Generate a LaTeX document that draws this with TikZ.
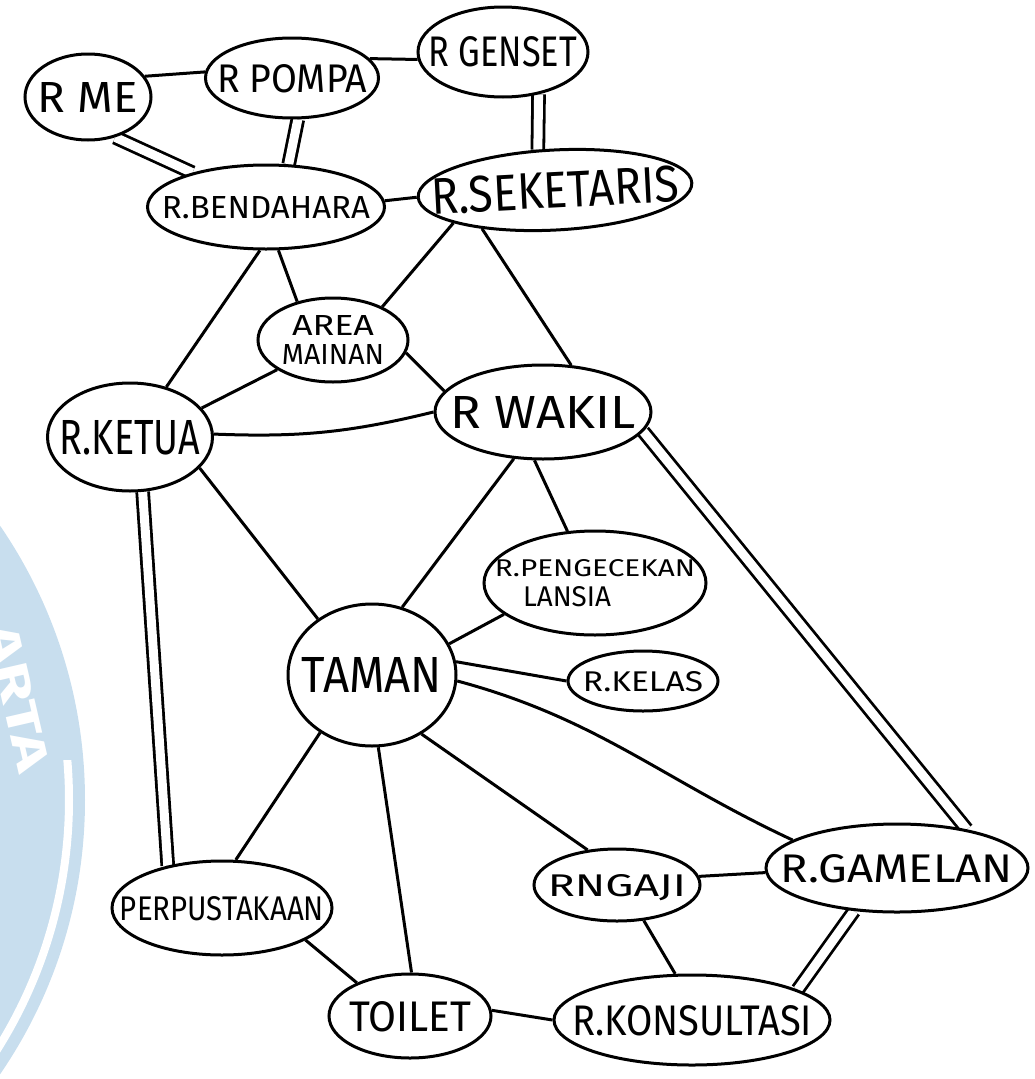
\documentclass[tikz,border=0pt]{standalone}
\usepackage{fontspec}
\setmainfont{Fira Sans}
\usetikzlibrary{shapes.geometric,backgrounds}
\definecolor{wm}{RGB}{200,222,238}
\newcommand{\lbl}[3]{\resizebox{#1pt}{#2pt}{#3}}
\newcommand{\ctr}[1]{\smash{\makebox[0pt]{\raisebox{-0.5\height}{#1}}}}
\begin{document}
\begin{tikzpicture}[x=1pt,y=-1pt,
  room/.style={ellipse, draw, line width=3pt, fill=white, inner sep=0pt},
  link/.style={line width=3pt},
  dlink/.style={line width=2.8pt, double=white, double distance=9pt}]
\useasboundingbox (0,0) rectangle (1034,1079);
% watermark
\fill[wm] (-400,800) circle[radius=485pt];
\begin{scope}
  \clip (0,760) rectangle (200,1079);
  \draw[white, line width=8pt] (-400,800) circle[radius=469pt];
\end{scope}
\node[rotate=-77, text=white, inner sep=0pt] (wmtext) at (18,698) {\lbl{150}{32}{\bfseries ARTA}};
% rooms
\node[room, minimum width=126pt, minimum height=86pt] (mie) at (88,97) {\ctr{\lbl{100}{30}{R ME}}};
\node[room, minimum width=173pt, minimum height=80pt] (pompa) at (292,78) {\ctr{\lbl{150}{28}{R POMPA}}};
\node[room, minimum width=170pt, minimum height=90pt] (genset) at (503,52) {\ctr{\lbl{148}{30}{R GENSET}}};
\node[room, minimum width=237pt, minimum height=84pt] (bend) at (266,207) {\ctr{\lbl{208}{22}{R.BENDAHARA}}};
\node[room, minimum width=274pt, minimum height=80pt, rotate=3] (sek) at (555,190) {\ctr{\lbl{248}{36}{R.SEKETARIS}}};
\node[room, minimum width=150pt, minimum height=84pt] (area) at (333,340) {\ctr{\begin{tabular}[b]{@{}c@{}}\lbl{82}{20}{AREA}\\[6pt]\lbl{102}{20}{MAINAN}\end{tabular}}};
\node[room, minimum width=216pt, minimum height=94pt] (wakil) at (543,412) {\ctr{\lbl{185}{32}{R WAKIL}}};
\node[room, minimum width=165pt, minimum height=108pt] (ketua) at (130,437) {\ctr{\lbl{140}{34}{R.KETUA}}};
\node[room, minimum width=222pt, minimum height=104pt] (peng) at (595,583) {\ctr{\begin{tabular}[b]{@{}l@{}}\lbl{200}{17}{R.PENGECEKAN}\\[6pt]\hspace{28pt}\lbl{88}{20}{LANSIA}\end{tabular}}};
\node[room, minimum width=168pt, minimum height=142pt] (taman) at (372,675) {\ctr{\lbl{140}{35}{TAMAN}}};
\node[room, minimum width=150pt, minimum height=60pt] (kelas) at (643,681) {\ctr{\lbl{120}{20}{R.KELAS}}};
\node[room, minimum width=262pt, minimum height=88pt] (gamelan) at (897,868) {\ctr{\lbl{232}{28}{R.GAMELAN}}};
\node[room, minimum width=166pt, minimum height=72pt] (ngaji) at (617,885) {\ctr{\lbl{138}{22}{RNGAJI}}};
\node[room, minimum width=220pt, minimum height=94pt] (perpus) at (222,908) {\ctr{\lbl{204}{24}{PERPUSTAKAAN}}};
\node[room, minimum width=162pt, minimum height=84pt] (toilet) at (410,1016) {\ctr{\lbl{122}{30}{TOILET}}};
\node[room, minimum width=276pt, minimum height=90pt] (konsul) at (692,1020) {\ctr{\lbl{240}{30}{R.KONSULTASI}}};
% connections
\begin{pgfonlayer}{background}
\draw[link] (mie.20) -- (pompa.176);
\draw[link] (pompa.14) -- (genset.185);
\draw[dlink] (mie.-56) -- (bend.155);
\draw[dlink] (pompa.-82) -- (bend.62);
\draw[dlink] (genset.-50) -- (sek.110);
\draw[link] (bend.3) -- (sek.180);
\draw[link] (bend.-74) -- (area.133);
\draw[link] (bend.-98) -- (ketua.54);
\draw[link] (sek.195) -- (area.34);
\draw[link] (sek.205) -- (wakil.59);
\draw[link] (area.-10) -- (wakil.168);
\draw[link] (area.208) -- (ketua.22);
\draw[link] (ketua.2) to[bend right=8] (wakil.180);
\draw[dlink] (ketua.-77) -- (perpus.142);
\draw[link] (ketua.-24) -- (taman.134);
\draw[link] (wakil.-122) -- (taman.66);
\draw[link] (wakil.-100) -- (peng.118);
\draw[dlink] (wakil.-11) -- (gamelan.29);
\draw[link] (taman.22) -- (peng.199);
\draw[link] (taman.9) -- (kelas.180);
\draw[link] (taman.-4) to[out=-15,in=155] (gamelan.165);
\draw[link] (taman.-50) -- (ngaji.130);
\draw[link] (taman.-132) -- (perpus.74);
\draw[link] (taman.-85) -- (toilet.88);
\draw[link] (perpus.-21) -- (toilet.148);
\draw[link] (toilet.4) -- (konsul.180);
\draw[link] (ngaji.6) -- (gamelan.182);
\draw[link] (ngaji.-53) -- (konsul.110);
\draw[dlink] (gamelan.-135) -- (konsul.16);
\end{pgfonlayer}
\end{tikzpicture}
\end{document}
